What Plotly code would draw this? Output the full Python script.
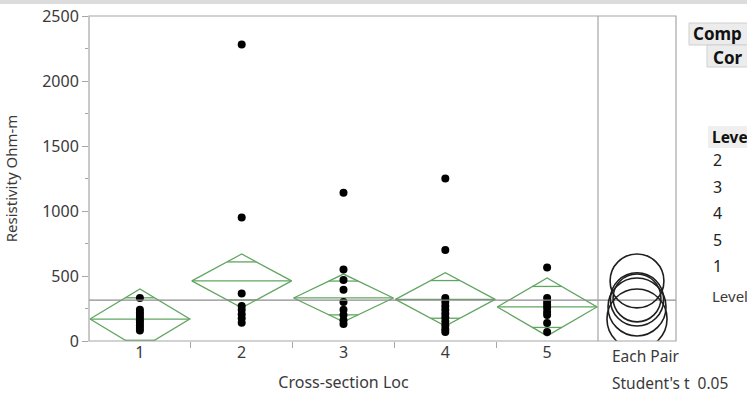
import math
import plotly.graph_objects as go

# ---- data ----
levels = ["1", "2", "3", "4", "5"]
g1 = [330, 240, 220, 200, 180, 160, 140, 120, 100, 80]
g2 = [2280, 950, 365, 270, 240, 205, 175, 140]
g3 = [1140, 550, 470, 395, 300, 240, 200, 160, 130]
g4 = [1250, 700, 330, 300, 270, 240, 210, 180, 150, 120, 90, 70]
g5 = [565, 330, 300, 277, 254, 223, 200, 138, 70]
groups = [g1, g2, g3, g4, g5]
means = [169, 462, 331, 320, 262]
upper95 = [400, 669, 515, 525, 485]
grand_mean = 315
y_ticks = [0, 500, 1000, 1500, 2000, 2500]
report_levels = ["2", "3", "4", "5", "1"]

# ---- layout geometry ----
W, H = 747, 396
ML, MR, MT, MB = 89, 71, 16, 55
plot_w = W - ML - MR
plot_h = H - MT - MB
main_w = 509
split = main_w / plot_w
panel_w = plot_w - main_w
YMAX = 2500
py = plot_h / YMAX  # px per data unit

GREEN = "rgb(96,165,96)"
AX = "#a6a6a6"
FONT = "Noto Sans"
TXT = "#3a3a3a"

fig = go.Figure()

# diamonds
hw = 0.49
for i, (m, u) in enumerate(zip(means, upper95), start=1):
    h = u - m
    lo = m - h
    fig.add_trace(go.Scatter(x=[i - hw, i, i + hw, i, i - hw], y=[m, u, m, lo, m],
                             mode="lines", line=dict(color=GREEN, width=1.3),
                             hoverinfo="skip", showlegend=False))
    fig.add_trace(go.Scatter(x=[i - hw, i + hw], y=[m, m], mode="lines",
                             line=dict(color=GREEN, width=1.3), hoverinfo="skip", showlegend=False))
    ov = h / math.sqrt(2)
    ow = hw * (1 - 1 / math.sqrt(2))
    for yy in (m + ov, m - ov):
        fig.add_trace(go.Scatter(x=[i - ow, i + ow], y=[yy, yy], mode="lines",
                                 line=dict(color=GREEN, width=1.3), hoverinfo="skip", showlegend=False))

# points
for i, g in enumerate(groups, start=1):
    fig.add_trace(go.Scatter(x=[i] * len(g), y=g, mode="markers",
                             marker=dict(color="black", size=8), showlegend=False))

# dummy trace for panel axis
fig.add_trace(go.Scatter(x=[panel_w / 2], y=[grand_mean], xaxis="x2", yaxis="y",
                         mode="markers", marker=dict(opacity=0), showlegend=False, hoverinfo="skip"))

shapes = []
# grand mean line across both panels
shapes.append(dict(type="line", xref="paper", yref="y", x0=0, x1=1, y0=grand_mean, y1=grand_mean,
                   line=dict(color="#8c8c8c", width=1.3), layer="above"))
# comparison circles
cx = panel_w / 2
for m, u in zip(means, upper95):
    r = u - m
    shapes.append(dict(type="circle", xref="x2", yref="y",
                       x0=cx - r * py, x1=cx + r * py, y0=m - r, y1=m + r,
                       line=dict(color="#1e1e1e", width=1.6)))
# frame
shapes.append(dict(type="rect", xref="paper", yref="paper", x0=0, x1=1, y0=0, y1=1,
                   line=dict(color=AX, width=1.2)))
shapes.append(dict(type="line", xref="paper", yref="paper", x0=split, x1=split, y0=0, y1=1,
                   line=dict(color=AX, width=1.2)))


def px(xp):
    return (xp - ML) / plot_w


def pyp(yp):
    return (H - MB - yp) / plot_h


# top window strip
shapes.append(dict(type="rect", xref="paper", yref="paper", x0=px(0), x1=px(W),
                   y0=pyp(4), y1=pyp(0), line=dict(width=0), fillcolor="#dcdcdc"))

# report boxes
shapes.append(dict(type="rect", xref="paper", yref="paper", x0=px(689), x1=px(760),
                   y0=pyp(45), y1=pyp(23), fillcolor="#ececec", line=dict(color="#cfcfcf", width=1)))
shapes.append(dict(type="rect", xref="paper", yref="paper", x0=px(707), x1=px(760),
                   y0=pyp(67), y1=pyp(45), fillcolor="#ececec", line=dict(color="#cfcfcf", width=1)))
shapes.append(dict(type="rect", xref="paper", yref="paper", x0=px(708), x1=px(760),
                   y0=pyp(148), y1=pyp(126), fillcolor="#efefef", line=dict(width=0)))

ann = []


def text(t, x, y, size, color=TXT):
    ann.append(dict(text=t, x=px(x), y=pyp(y), xref="paper", yref="paper",
                    xanchor="left", yanchor="middle", showarrow=False,
                    font=dict(family=FONT, size=size, color=color)))


text("<b>Comp</b>", 691, 34, 17, "#111")
text("<b>Cor</b>", 711, 57, 17, "#111")
text("<b>Leve</b>", 710, 137, 15.5, "#111")
for k, lv in enumerate(report_levels):
    text(lv, 711, 160 + 26.5 * k, 16, "#222")
text("Level", 710, 296, 15)
text("Each Pair", 610, 356, 15.5)
text("Student's t  0.05", 610, 383, 15.5)

fig.update_layout(
    width=W, height=H,
    margin=dict(l=ML, r=MR, t=MT, b=MB, autoexpand=False),
    paper_bgcolor="white", plot_bgcolor="white",
    font=dict(family=FONT, color=TXT, size=16),
    shapes=shapes, annotations=ann,
    xaxis=dict(domain=[0, split], range=[0.5, 5.5], tickmode="array", automargin=False,
               tickvals=list(range(1, 6)), ticktext=levels, ticks="",
               showgrid=False, zeroline=False, showline=False,
               tickfont=dict(size=16, color=TXT),
               minor=dict(tickmode="array", tickvals=[1.5, 2.5, 3.5, 4.5], ticks="outside",
                          ticklen=6, tickcolor=AX, showgrid=False),
               title=dict(text="Cross-section Loc", font=dict(size=16, color=TXT), standoff=14)),
    xaxis2=dict(domain=[split, 1], range=[0, panel_w], anchor="y", showticklabels=False,
                automargin=False, ticks="", showgrid=False, zeroline=False, showline=False),
    yaxis=dict(range=[0, YMAX], tickmode="array", tickvals=y_ticks, ticks="outside",
               automargin=False, ticklen=6, tickcolor=AX, showgrid=False, zeroline=False,
               showline=False, tickfont=dict(size=16, color=TXT),
               minor=dict(dtick=250, ticks="outside", ticklen=3, tickcolor=AX, showgrid=False),
               title=dict(text="Resistivity Ohm-m", font=dict(size=15, color=TXT), standoff=20)),
)

fig.write_html("out.html")
